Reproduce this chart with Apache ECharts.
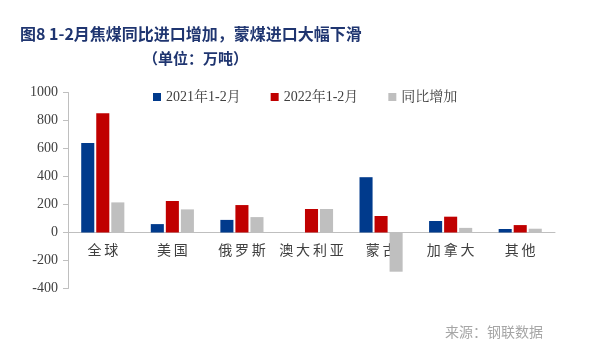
<!DOCTYPE html>
<html><head><meta charset="utf-8">
<script src="https://cdn.jsdelivr.net/npm/echarts@6/dist/echarts.min.js"></script>
<style>html,body{margin:0;padding:0;background:#fff}#c{width:597px;height:363px}</style>
</head><body><div id="c"></div>
<script>
var categories = ['全球','美国','俄罗斯','澳大利亚','蒙古','加拿大','其他'];
var s2021 = [640, 60, 90, 0, 395, 82, 25];
var s2022 = [852, 225, 196, 168, 118, 113, 53];
var sDiff = [215, 165, 110, 168, -280, 33, 27];
var seriesNames = ['2021年1-2月','2022年1-2月','同比增加'];
var yTicks = {min:-400, max:1000, interval:200};

var chart = echarts.init(document.getElementById('c'));
var serif = '"Liberation Serif","Noto Serif CJK SC","Noto Sans CJK SC",serif';
chart.setOption({
  animation:false,
  backgroundColor:'#fff',
  title:[
    {text:'图8 1-2月焦煤同比进口增加，蒙煤进口大幅下滑', left:15, top:21,
     textStyle:{fontFamily:'"Noto Sans CJK SC",sans-serif', fontSize:16, fontWeight:'bold', color:'#1F3570'}},
    {text:'（单位：万吨）', left:138, top:46,
     textStyle:{fontFamily:'"Noto Sans CJK SC",sans-serif', fontSize:15, fontWeight:'bold', color:'#1F3570'}},
    {text:'来源：钢联数据', left:440, top:320,
     textStyle:{fontFamily:'"Noto Sans CJK SC",sans-serif', fontSize:14, fontWeight:'normal', color:'#A6A6A6'}}
  ],
  legend:{left:148, top:85, itemWidth:8, itemHeight:8, itemGap:30, icon:'rect',
    textStyle:{fontFamily:serif, fontSize:14, color:'#404040'},
    data:seriesNames},
  grid:{left:68, right:42, top:92.5, bottom:74.5},
  xAxis:{type:'category', data:categories,
    axisLine:{onZero:true, lineStyle:{color:'#BFBFBF'}},
    axisTick:{show:false},
    axisLabel:{interval:0, margin:-46, fontFamily:'"Noto Sans CJK SC",sans-serif', fontSize:14, color:'#404040',
      formatter:function(v){return v.split('').join('\u2009');}}},
  yAxis:{type:'value', min:yTicks.min, max:yTicks.max, interval:yTicks.interval,
    axisLine:{show:true, lineStyle:{color:'#BFBFBF'}},
    axisTick:{show:true, length:5, lineStyle:{color:'#BFBFBF'}},
    splitLine:{show:false},
    axisLabel:{margin:10, fontFamily:serif, fontSize:14, color:'#404040',
      formatter:function(v){return String(v);}}},
  series:[
    {name:seriesNames[0], type:'bar', data:s2021, itemStyle:{color:'#003A8C'}, barGap:'15%', barCategoryGap:'38%'},
    {name:seriesNames[1], type:'bar', data:s2022, itemStyle:{color:'#C00000'}},
    {name:seriesNames[2], type:'bar', data:sDiff, itemStyle:{color:'#BFBFBF'}}
  ]
});
</script></body></html>
